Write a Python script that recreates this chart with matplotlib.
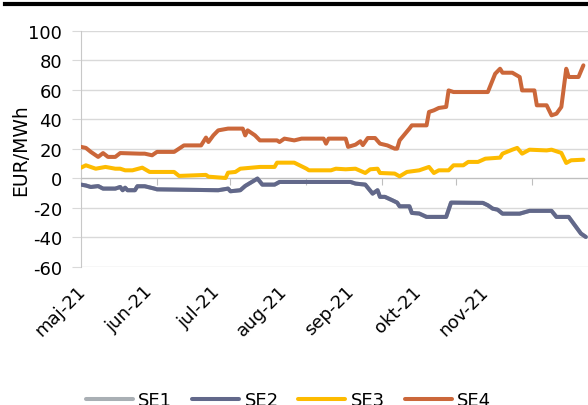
import pandas as pd
import matplotlib
matplotlib.use('Agg')
import matplotlib.pyplot as plt
import matplotlib.dates as mdates
from matplotlib.lines import Line2D

# values (EUR/MWh)
se4_dates = ['2021-05-01', '2021-05-03', '2021-05-05', '2021-05-08', '2021-05-10', '2021-05-12',
             '2021-05-15', '2021-05-17', '2021-05-25', '2021-05-27', '2021-05-30', '2021-06-01',
             '2021-06-08', '2021-06-12', '2021-06-19', '2021-06-21', '2021-06-22', '2021-06-24',
             '2021-06-26', '2021-06-30', '2021-07-06', '2021-07-07', '2021-07-08', '2021-07-11',
             '2021-07-13', '2021-07-20', '2021-07-21', '2021-07-23', '2021-07-27', '2021-07-30',
             '2021-08-08', '2021-08-09', '2021-08-10', '2021-08-17', '2021-08-18', '2021-08-21',
             '2021-08-23', '2021-08-24', '2021-08-26', '2021-08-29', '2021-08-31', '2021-09-03',
             '2021-09-06', '2021-09-07', '2021-09-08', '2021-09-12', '2021-09-13', '2021-09-19',
             '2021-09-20', '2021-09-22', '2021-09-24', '2021-09-27', '2021-09-28', '2021-09-30',
             '2021-10-14', '2021-10-17', '2021-10-19', '2021-10-20', '2021-10-24', '2021-10-27',
             '2021-10-28', '2021-11-02', '2021-11-03', '2021-11-07', '2021-11-09', '2021-11-11',
             '2021-11-13', '2021-11-15', '2021-11-16', '2021-11-20', '2021-11-22']
se4_vals = [21.2, 20.5, 17.8, 14.4, 17.0, 14.4,
            14.4, 17.0, 16.6, 16.6, 15.5, 17.8,
            17.8, 22.2, 22.2, 27.5, 24.5, 29.0,
            32.4, 33.6, 33.6, 29.0, 32.4, 29.0,
            25.6, 25.6, 24.5, 26.8, 25.6, 26.8,
            26.8, 23.4, 26.8, 26.8, 21.2, 22.7,
            25.0, 22.4, 27.2, 27.2, 23.4, 22.2,
            20.0, 20.0, 25.6, 33.6, 35.8, 35.8,
            44.9, 46.0, 47.6, 48.3, 59.5, 58.4,
            58.4, 70.8, 74.2, 71.5, 71.5, 68.6,
            59.5, 59.5, 49.4, 49.4, 42.6, 43.7,
            48.3, 74.2, 68.6, 68.6, 76.5]

se3_dates = ['2021-05-01', '2021-05-03', '2021-05-07', '2021-05-11', '2021-05-15', '2021-05-17',
             '2021-05-19', '2021-05-22', '2021-05-26', '2021-05-29', '2021-06-08', '2021-06-10',
             '2021-06-21', '2021-06-22', '2021-06-29', '2021-06-30', '2021-07-03', '2021-07-05',
             '2021-07-13', '2021-07-19', '2021-07-20', '2021-07-27', '2021-08-01', '2021-08-02',
             '2021-08-11', '2021-08-13', '2021-08-17', '2021-08-21', '2021-08-25', '2021-08-27',
             '2021-08-30', '2021-08-31', '2021-09-06', '2021-09-08', '2021-09-11', '2021-09-16',
             '2021-09-20', '2021-09-22', '2021-09-24', '2021-09-28', '2021-09-30', '2021-10-04',
             '2021-10-06', '2021-10-10', '2021-10-13', '2021-10-19', '2021-10-20', '2021-10-24',
             '2021-10-26', '2021-10-28', '2021-10-31', '2021-11-07', '2021-11-09', '2021-11-13',
             '2021-11-15', '2021-11-17', '2021-11-22']
se3_vals = [7.1, 8.7, 6.4, 7.6, 6.4, 6.4,
            5.3, 5.3, 7.1, 4.2, 4.2, 1.5,
            2.2, 1.0, 0.1, 3.7, 4.2, 6.4,
            7.6, 7.6, 10.5, 10.5, 6.4, 5.3,
            5.3, 6.4, 6.0, 6.4, 3.5, 6.0,
            6.4, 3.5, 3.1, 1.2, 4.2, 5.3,
            7.6, 3.5, 5.3, 5.3, 8.7, 8.7,
            11.0, 11.0, 13.2, 13.9, 16.6, 19.3,
            20.5, 16.6, 19.3, 18.8, 19.3, 17.1,
            10.3, 12.1, 12.5]

se2_dates = ['2021-05-01', '2021-05-03', '2021-05-05', '2021-05-08', '2021-05-10', '2021-05-15',
             '2021-05-17', '2021-05-18', '2021-05-19', '2021-05-20', '2021-05-23', '2021-05-24',
             '2021-05-27', '2021-05-31', '2021-06-01', '2021-06-26', '2021-06-30', '2021-07-01',
             '2021-07-05', '2021-07-07', '2021-07-12', '2021-07-14', '2021-07-19', '2021-07-21',
             '2021-08-19', '2021-08-21', '2021-08-25', '2021-08-28', '2021-08-30', '2021-08-31',
             '2021-09-02', '2021-09-05', '2021-09-07', '2021-09-08', '2021-09-12', '2021-09-13',
             '2021-09-16', '2021-09-19', '2021-09-27', '2021-09-29', '2021-10-12', '2021-10-14',
             '2021-10-16', '2021-10-18', '2021-10-20', '2021-10-27', '2021-10-31', '2021-11-09',
             '2021-11-11', '2021-11-16', '2021-11-19', '2021-11-21', '2021-11-23']
se2_vals = [-4.4, -5.0, -6.0, -5.4, -7.1, -7.1,
            -6.0, -8.2, -6.5, -8.2, -8.2, -5.5,
            -5.5, -7.1, -7.6, -8.2, -7.1, -8.9,
            -8.2, -5.3, -0.3, -4.4, -4.4, -2.6,
            -2.6, -3.7, -4.4, -10.5, -8.2, -12.7,
            -12.7, -15.0, -16.6, -19.1, -19.1, -23.6,
            -24.0, -26.3, -26.3, -16.6, -16.8, -18.4,
            -20.7, -21.4, -24.1, -24.1, -22.2, -22.2,
            -26.3, -26.3, -33.1, -37.6, -39.9]

# SE1 lies exactly under SE2 in the chart
se1_dates = se2_dates
se1_vals = se2_vals

month_labels = ['maj-21', 'jun-21', 'jul-21', 'aug-21', 'sep-21', 'okt-21', 'nov-21']

plt.rcParams['font.family'] = ['DejaVu Sans']
plt.rcParams['axes.unicode_minus'] = False

W, H = 588, 406
fig = plt.figure(figsize=(W / 100, H / 100), dpi=100)
ax = fig.add_axes([81 / W, (H - 267.6) / H, 522 / W, (267.6 - 31.7) / H])

series = [('SE1', se1_dates, se1_vals, '#A9AFB4'),
          ('SE2', se2_dates, se2_vals, '#62688A'),
          ('SE3', se3_dates, se3_vals, '#FDBB00'),
          ('SE4', se4_dates, se4_vals, '#CB673A')]
for name, d, v, c in series:
    ax.plot(pd.to_datetime(d), v, color=c, lw=2.9, label=name,
            solid_capstyle='round', solid_joinstyle='round', zorder=3)

ax.set_xlim(pd.Timestamp('2021-05-01'), pd.Timestamp('2021-11-30'))
ax.set_ylim(-60, 100)
ax.set_yticks(range(-60, 101, 20))
ax.yaxis.grid(True, color='#D9D9D9', lw=1)
ax.set_axisbelow(True)
ax.tick_params(axis='y', length=6.5, color='#D9D9D9', pad=7, labelsize=13)

for s in ['top', 'right']:
    ax.spines[s].set_visible(False)
ax.spines['left'].set_color('#C8C8C8')
ax.spines['bottom'].set_position(('data', 0))
ax.spines['bottom'].set_color('#BFBFBF')
ax.xaxis.set_major_locator(mdates.MonthLocator())
ax.tick_params(axis='x', length=5, color='#BFBFBF', labelbottom=False)

ax.set_ylabel('EUR/MWh', fontsize=13.5)
ax.yaxis.set_label_coords(-51 / 522, 0.5)

# rotated month labels along the bottom
for i, lab in enumerate(month_labels):
    fig.text((76 + 67.2 * i) / W, 1 - 283 / H, lab, rotation=45, rotation_mode='anchor',
             ha='right', va='top', fontsize=13)

fig.legend(loc='center', ncol=4, frameon=False, fontsize=13,
           bbox_to_anchor=(288.5 / W, 1 - 401 / H), handlelength=2.6,
           handletextpad=0.3, columnspacing=1.1)

# thick rule at the top
fig.add_artist(Line2D([5 / W, 1], [1 - 4.7 / H, 1 - 4.7 / H], color='black', lw=3))

fig.savefig('out.png', dpi=100)
